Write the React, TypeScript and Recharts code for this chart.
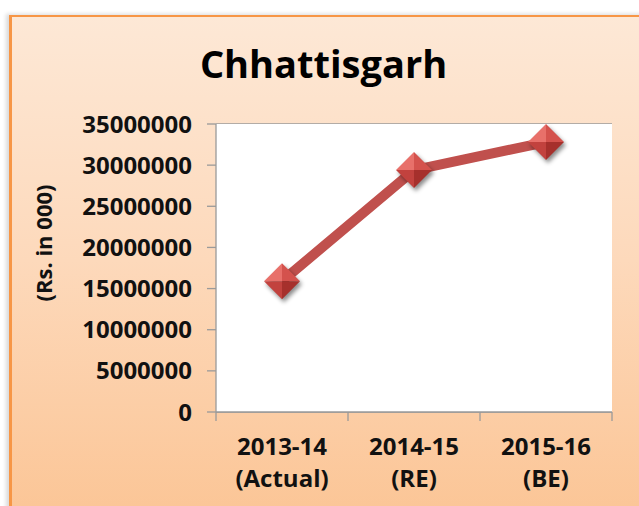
import { LineChart, Line, XAxis, YAxis, CartesianGrid } from "recharts";

const categoryYears = ["2013-14", "2014-15", "2015-16"];
const categoryNotes = ["(Actual)", "(RE)", "(BE)"];
const spending = [15900000, 29400000, 32800000];
const yTicks = [0, 5000000, 10000000, 15000000, 20000000, 25000000, 30000000, 35000000];
// category boundaries (integers) carry tick marks, centres (halves) carry labels
const xTicks = [0, 0.5, 1, 1.5, 2, 2.5, 3];

const data = categoryYears.map((year, i) => ({ pos: i + 0.5, year, value: spending[i] }));

const FONT = '"Open Sans", "DejaVu Sans", sans-serif';
const GRID = "#9a9a9a";

function XTick(props: any) {
  const { x, y, payload } = props;
  const v = payload.value as number;
  if (Number.isInteger(v)) {
    return <line x1={x} x2={x} y1={y} y2={y + 9} stroke={GRID} strokeWidth={1.3} />;
  }
  const i = Math.floor(v);
  return (
    <text x={x} y={y} textAnchor="middle" fontFamily={FONT} fontWeight={700} fontSize={24} fill="#111">
      <tspan x={x} dy={43}>{categoryYears[i]}</tspan>
      <tspan x={x} dy={32}>{categoryNotes[i]}</tspan>
    </text>
  );
}

function Diamond(props: any) {
  const { cx, cy, index } = props;
  if (cx == null || cy == null) return null;
  const r = 18;
  const t = `${cx},${cy - r}`;
  const rt = `${cx + r},${cy}`;
  const b = `${cx},${cy + r}`;
  const l = `${cx - r},${cy}`;
  const c = `${cx},${cy}`;
  return (
    <g key={`d${index}`} style={{ filter: "drop-shadow(2px 3px 2px rgba(0,0,0,0.45))" }}>
      <polygon points={`${t} ${l} ${c}`} fill="#e8706a" />
      <polygon points={`${t} ${rt} ${c}`} fill="#d4524d" />
      <polygon points={`${l} ${b} ${c}`} fill="#c2423e" />
      <polygon points={`${rt} ${b} ${c}`} fill="#a6302c" />
    </g>
  );
}

export default function App() {
  return (
    <div style={{ position: "relative", width: 639, height: 506, background: "#fff", overflow: "hidden" }}>
      <style>{`body{margin:0}`}</style>
      <div
        style={{
          position: "absolute",
          left: 9,
          top: 15,
          width: 680,
          height: 540,
          background: "linear-gradient(180deg, #fde8d6 0%, #fdd9bb 45%, #fbc290 100%)",
          borderLeft: "3px solid #f79646",
          borderTop: "2px solid #f79646",
          boxShadow: "-3px -1px 4px rgba(0,0,0,0.15)",
        }}
      />
      <div
        style={{
          position: "absolute",
          left: 0,
          top: 44,
          width: 647,
          textAlign: "center",
          fontFamily: FONT,
          fontWeight: 700,
          fontSize: 38,
          lineHeight: 1,
          color: "#000",
        }}
      >
        Chhattisgarh
      </div>
      <div
        style={{
          position: "absolute",
          left: 43,
          top: 243,
          transform: "translate(-50%, -50%) rotate(-90deg)",
          whiteSpace: "nowrap",
          fontFamily: FONT,
          fontWeight: 700,
          fontSize: 22,
          color: "#111",
        }}
      >
        (Rs. in 000)
      </div>
      <div style={{ position: "absolute", left: 0, top: 0 }}>
        <LineChart width={639} height={506} data={data} margin={{ top: 124, right: 27, bottom: 0, left: 0 }}>
          <rect x={216} y={124} width={396} height={288} fill="#fff" />
          <CartesianGrid vertical={false} stroke={GRID} strokeWidth={1.3} fill="#fff" />
          <XAxis
            dataKey="pos"
            type="number"
            domain={[0, 3]}
            ticks={xTicks}
            interval={0}
            height={94}
            tickLine={false}
            tickSize={0}
            tickMargin={0}
            axisLine={{ stroke: GRID, strokeWidth: 1.3 }}
            tick={<XTick />}
          />
          <YAxis
            domain={[0, 35000000]}
            ticks={yTicks}
            interval={0}
            width={216}
            tickSize={9}
            tickMargin={15}
            tickLine={{ stroke: GRID, strokeWidth: 1.3 }}
            axisLine={{ stroke: GRID, strokeWidth: 1.3 }}
            tick={{ fontFamily: FONT, fontWeight: 700, fontSize: 24, fill: "#111" }}
          />
          <Line
            dataKey="value"
            stroke="#c0504d"
            strokeWidth={10}
            dot={<Diamond />}
            activeDot={false}
            isAnimationActive={false}
          />
        </LineChart>
      </div>
    </div>
  );
}
